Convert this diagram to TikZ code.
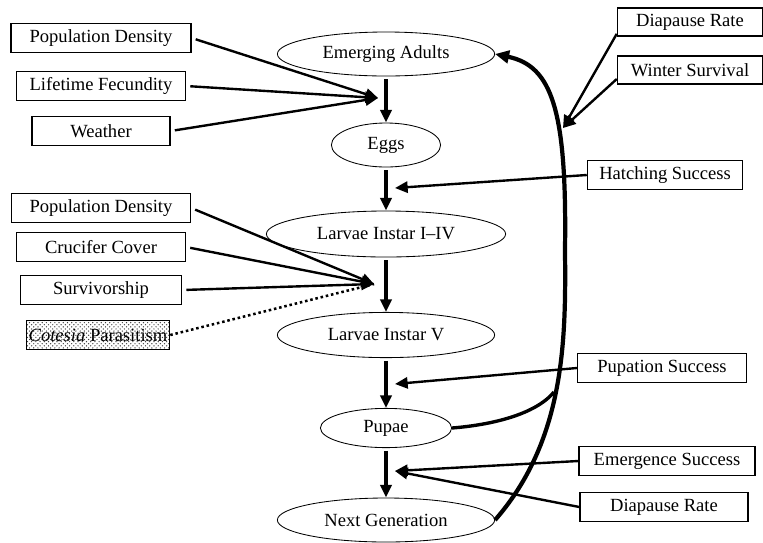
\documentclass[tikz,border=0pt]{standalone}
\usepackage{fontspec}
\setmainfont{Liberation Serif}
\usetikzlibrary{shapes.geometric,arrows.meta,patterns}

\begin{document}
\begin{tikzpicture}[x=0.025cm, y=-0.025cm,
  every node/.style={font=\fontsize{13.2}{15}\selectfont},
  stage/.style={ellipse, draw, line width=0.6pt, inner sep=0pt, minimum height=1.1cm},
  factor/.style={rectangle, draw, line width=0.9pt, inner sep=0pt, minimum height=0.72cm},
  flow/.style={line width=2.6pt, -{Triangle[length=9pt,width=8pt]}, shorten <=2pt},
  effect/.style={line width=1.7pt, -{Triangle[length=9pt,width=8pt]}, shorten <=3pt}]
\useasboundingbox (0,0) rectangle (763,542);

% life stages
\node[stage, minimum width=5.43cm] (adults) at (386,54) {Emerging Adults};
\node[stage, minimum width=2.73cm] (eggs) at (386,145) {Eggs};
\node[stage, minimum width=5.98cm, minimum height=1.15cm] (larvae) at (386,234) {Larvae Instar I–IV};
\node[stage, minimum width=5.43cm, minimum height=1.13cm] (larvaefive) at (386,335) {Larvae Instar V};
\node[stage, minimum width=3.28cm, minimum height=0.98cm] (pupae) at (386,428) {Pupae};
\node[stage, minimum width=5.43cm] (nextgen) at (386,520) {Next Generation};

% factors on the left
\node[factor, minimum width=4.5cm] (popdens) at (101,38) {Population Density};
\node[factor, minimum width=4.22cm] (fecundity) at (101,86) {Lifetime Fecundity};
\node[factor, minimum width=3.45cm] (weather) at (101,131) {Weather};
\node[factor, minimum width=4.48cm] (popdenslarv) at (101,208) {Population Density};
\node[factor, minimum width=4.22cm] (crucifer) at (101,247) {Crucifer Cover};
\node[factor, minimum width=4.03cm] (survivor) at (101,290) {Survivorship};
\node[factor, minimum width=3.58cm, pattern=crosshatch dots, pattern color=black!75] (cotesia) at (98,335) {\textit{Cotesia} Parasitism};

% factors on the right
\node[factor, minimum width=3.63cm, minimum height=0.7cm] (diapause) at (690,22) {Diapause Rate};
\node[factor, minimum width=3.63cm, minimum height=0.7cm] (winter) at (690,70) {Winter Survival};
\node[factor, minimum width=3.88cm] (hatching) at (665,175) {Hatching Success};
\node[factor, minimum width=4.22cm] (pupation) at (662,368) {Pupation Success};
\node[factor, minimum width=4.4cm] (emergence) at (667,461) {Emergence Success};
\node[factor, minimum width=4.2cm] (diapausepupae) at (664,507) {Diapause Rate};

\coordinate (adultsin) at (378,98);
\coordinate (larvaein) at (374,284);
\coordinate (wintering) at (563,128);
\coordinate (hatchin) at (395,188);
\coordinate (pupatein) at (395,384);
\coordinate (emergein) at (395,471);
\coordinate (merge) at (554,392);

% main sequence
\draw[flow] (adults) -- (eggs);
\draw[flow] (eggs) -- (larvae);
\draw[flow] (larvae) -- (larvaefive);
\draw[flow] (larvaefive) -- (pupae);
\draw[flow] (pupae) -- (nextgen);

% feedback to adults
\draw[line width=3pt, -{Triangle[length=10pt,width=9pt]}] (nextgen.east)
  .. controls (565,440) and (566,340) .. (565,250)
  .. controls (567,110) and (552,66) .. (adults.east);
\draw[line width=2.4pt] (pupae.east) .. controls (490,425) and (535,415) .. (merge);

\draw[effect] (popdens.east) -- (adultsin);
\draw[effect] (fecundity.east) -- (adultsin);
\draw[effect] (weather.east) -- (adultsin);
\draw[effect] (popdenslarv.east) -- (larvaein);
\draw[effect] (crucifer.east) -- (larvaein);
\draw[effect] (survivor.east) -- (larvaein);
\draw[line width=1.8pt, dotted] (cotesia.east) -- (larvaein);

\draw[effect, shorten <=0pt] ([yshift=2pt]diapause.south west) -- (wintering);
\draw[effect, shorten <=0pt] ([yshift=4pt]winter.south west) -- (wintering);
\draw[effect, shorten <=0pt] (hatching.west) -- (hatchin);
\draw[effect, shorten <=0pt] (pupation.west) -- (pupatein);
\draw[effect, shorten <=0pt] (emergence.west) -- (emergein);
\draw[effect, shorten <=0pt] (diapausepupae.west) -- (emergein);
\end{tikzpicture}
\end{document}
